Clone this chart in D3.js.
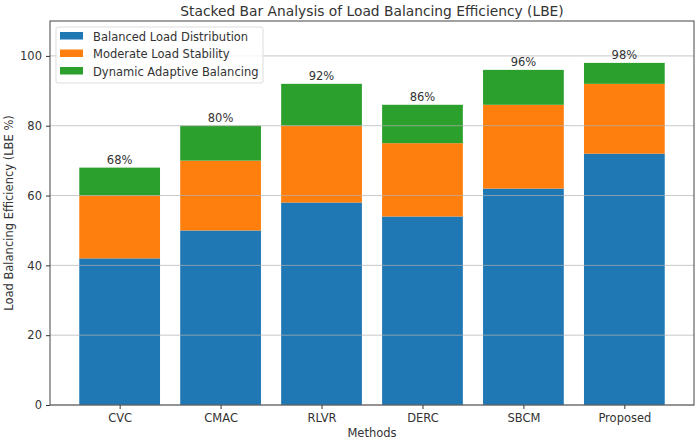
<!DOCTYPE html>
<html>
<head>
<meta charset="utf-8">
<script src="https://cdn.jsdelivr.net/npm/d3@7"></script>
<style>
  body { margin: 0; background: #fff; }
  text { font-family: "DejaVu Sans", sans-serif; fill: #333; }
</style>
</head>
<body>
<svg id="chart" width="700" height="441"></svg>
<script>
const methods = ["CVC", "CMAC", "RLVR", "DERC", "SBCM", "Proposed"];
const balanced = [42, 50, 58, 54, 62, 72];
const moderate = [18, 20, 22, 21, 24, 20];
const dynamic = [8, 10, 12, 11, 10, 6];
const seriesNames = ["Balanced Load Distribution", "Moderate Load Stability", "Dynamic Adaptive Balancing"];
const colors = ["#1f77b4", "#ff7f0e", "#2ca02c"];
const yTicks = [0, 20, 40, 60, 80, 100];

const svg = d3.select("#chart");
const width = 700, height = 441;
const margin = { top: 21, right: 6, bottom: 36, left: 50 };

// table for stacking
const rows = methods.map((m, i) => ({ method: m, i: i, s0: balanced[i], s1: moderate[i], s2: dynamic[i] }));
const stacked = d3.stack().keys(["s0", "s1", "s2"])(rows);

// matplotlib-like x limits: bar width 0.8, 5% margins
const x = d3.scaleLinear()
    .domain([-0.69, methods.length - 1 + 0.69])
    .range([margin.left, width - margin.right]);
const barW = x(0.8) - x(0);

const y = d3.scaleLinear()
    .domain([0, 110])
    .range([height - margin.bottom, margin.top]);

// bars
svg.append("g").selectAll("g")
    .data(stacked)
    .join("g")
    .attr("fill", (d, k) => colors[k])
    .selectAll("rect")
    .data(d => d)
    .join("rect")
    .attr("x", d => x(d.data.i) - barW / 2)
    .attr("width", barW)
    .attr("y", d => y(d[1]))
    .attr("height", d => y(d[0]) - y(d[1]));

// grid on top of bars
svg.append("g")
    .selectAll("line")
    .data(yTicks)
    .join("line")
    .attr("x1", margin.left)
    .attr("x2", width - margin.right)
    .attr("y1", d => y(d))
    .attr("y2", d => y(d))
    .attr("stroke", "#b0b0b0")
    .attr("stroke-opacity", 0.7)
    .attr("stroke-width", 1);

// total labels
svg.append("g").selectAll("text")
    .data(rows)
    .join("text")
    .attr("x", d => x(d.i))
    .attr("y", d => y(d.s0 + d.s1 + d.s2) - 4)
    .attr("text-anchor", "middle")
    .attr("font-size", "11.5px")
    .text(d => (d.s0 + d.s1 + d.s2) + "%");

// axes
const xAxis = d3.axisBottom(x)
    .tickValues(methods.map((m, i) => i))
    .tickFormat(i => methods[i])
    .tickSize(4)
    .tickPadding(5);
const gx = svg.append("g")
    .attr("transform", `translate(0,${height - margin.bottom})`)
    .call(xAxis);

const yAxis = d3.axisLeft(y)
    .tickValues(yTicks)
    .tickSize(4)
    .tickPadding(4);
const gy = svg.append("g")
    .attr("transform", `translate(${margin.left},0)`)
    .call(yAxis);

[gx, gy].forEach(g => {
    g.select(".domain").remove();
    g.selectAll(".tick line").attr("stroke", "#333");
    g.selectAll(".tick text").attr("font-size", "11.5px").attr("font-family", "DejaVu Sans").attr("fill", "#333");
});

// frame
svg.append("rect")
    .attr("x", margin.left)
    .attr("y", margin.top)
    .attr("width", width - margin.right - margin.left)
    .attr("height", height - margin.bottom - margin.top)
    .attr("fill", "none")
    .attr("stroke", "#444")
    .attr("stroke-width", 1);

// title and axis labels
svg.append("text")
    .attr("x", (margin.left + width - margin.right) / 2)
    .attr("y", 16)
    .attr("text-anchor", "middle")
    .attr("font-size", "13.8px")
    .text("Stacked Bar Analysis of Load Balancing Efficiency (LBE)");

svg.append("text")
    .attr("x", (margin.left + width - margin.right) / 2)
    .attr("y", 437)
    .attr("text-anchor", "middle")
    .attr("font-size", "11.5px")
    .text("Methods");

svg.append("text")
    .attr("transform", `translate(13,${(margin.top + height - margin.bottom) / 2}) rotate(-90)`)
    .attr("text-anchor", "middle")
    .attr("font-size", "11.5px")
    .text("Load Balancing Efficiency (LBE %)");

// legend
const legend = svg.append("g").attr("transform", "translate(56,27)");
legend.append("rect")
    .attr("width", 207)
    .attr("height", 56)
    .attr("rx", 2)
    .attr("fill", "#fff")
    .attr("fill-opacity", 0.8)
    .attr("stroke", "#ddd");
seriesNames.forEach((name, k) => {
    const row = legend.append("g").attr("transform", `translate(4,${5 + k * 17.5})`);
    row.append("rect").attr("width", 23).attr("height", 7.5).attr("fill", colors[k]);
    row.append("text")
        .attr("x", 33)
        .attr("y", 8.5)
        .attr("font-size", "11.5px")
        .text(name);
});
</script>
</body>
</html>
